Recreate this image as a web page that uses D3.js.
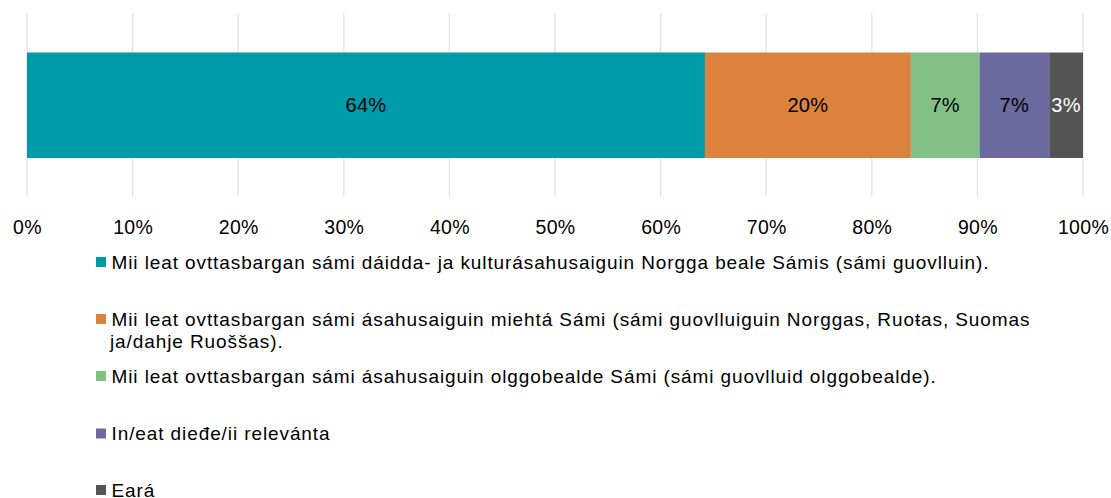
<!DOCTYPE html>
<html>
<head>
<meta charset="utf-8">
<script src="https://cdn.jsdelivr.net/npm/d3@7"></script>
<style>
  body { margin: 0; background: #fff; }
  text { font-family: "Liberation Sans", Arial, sans-serif; }
</style>
</head>
<body>
<script>
var width = 1111
var height = 498

// shares in percent
var categories = [
  'Mii leat ovttasbargan sámi dáidda- ja kulturásahusaiguin Norgga beale Sámis (sámi guovlluin).',
  'Mii leat ovttasbargan sámi ásahusaiguin miehtá Sámi (sámi guovlluiguin Norggas, Ruoŧas, Suomas|ja/dahje Ruoššas).',
  'Mii leat ovttasbargan sámi ásahusaiguin olggobealde Sámi (sámi guovlluid olggobealde).',
  'In/eat dieđe/ii relevánta',
  'Eará'
]
var values = [64.2, 19.5, 6.5, 6.6, 3.2]
var labels = ['64%', '20%', '7%', '7%', '3%']
var colors = ['#009baa', '#db823e', '#83c086', '#6b6a9f', '#545454']
var labelColors = ['#000', '#000', '#000', '#000', '#fff']
var ticks = [0, 10, 20, 30, 40, 50, 60, 70, 80, 90, 100]

var svg = d3.select('body')
  .append('svg')
  .attr('width', width)
  .attr('height', height)

var x = d3.scaleLinear().domain([0, 100]).range([27, 1083])

// gridlines
svg.selectAll('line.grid')
  .data(ticks)
  .enter()
  .append('line')
  .attr('class', 'grid')
  .attr('x1', function(d){ return x(d) })
  .attr('x2', function(d){ return x(d) })
  .attr('y1', 13)
  .attr('y2', 197)
  .attr('stroke', '#e4e4e4')
  .attr('stroke-width', 1.3)

var axis = d3.axisBottom(x)
  .tickValues(ticks)
  .tickSize(0)
  .tickPadding(0)
  .tickFormat(function(d){ return d + '%' })

var gAxis = svg.append('g')
  .attr('transform', 'translate(0,220)')
  .call(axis)
gAxis.select('.domain').remove()
gAxis.selectAll('text')
  .attr('dy', '0.35em')
  .attr('y', 7)
  .style('font-size', '19.5px')
  .style('letter-spacing', '0.3px')
  .style('font-family', '"Liberation Sans", Arial, sans-serif')
  .attr('fill', '#000')

// stacked segments
var starts = []
var acc = 0
values.forEach(function(v){ starts.push(acc); acc += v })

var seg = svg.selectAll('g.seg')
  .data(values)
  .enter()
  .append('g')
  .attr('class', 'seg')

seg.append('rect')
  .attr('x', function(d, i){ return x(starts[i]) })
  .attr('y', 52.5)
  .attr('width', function(d, i){ return x(starts[i] + d) - x(starts[i]) })
  .attr('height', 105.5)
  .attr('fill', function(d, i){ return colors[i] })

seg.append('text')
  .attr('x', function(d, i){ return x(starts[i] + d / 2) })
  .attr('y', 105)
  .attr('dy', '0.35em')
  .attr('text-anchor', 'middle')
  .style('font-size', '20px')
  .style('letter-spacing', '0.3px')
  .attr('fill', function(d, i){ return labelColors[i] })
  .text(function(d, i){ return labels[i] })

// legend
var legendY = [262, 319, 376, 433.5, 490]
var leg = svg.selectAll('g.leg')
  .data(categories)
  .enter()
  .append('g')
  .attr('class', 'leg')
  .attr('transform', function(d, i){ return 'translate(96,' + legendY[i] + ')' })

leg.append('rect')
  .attr('x', 0)
  .attr('y', -5)
  .attr('width', 10)
  .attr('height', 10)
  .attr('fill', function(d, i){ return colors[i] })

leg.append('text')
  .style('font-size', '19px')
  .style('letter-spacing', '0.9px')
  .attr('fill', '#000')
  .each(function(d){
    var t = d3.select(this)
    d.split('|').forEach(function(line, j){
      t.append('tspan')
        .attr('x', j == 0 ? 15.5 : 14)
        .attr('y', 0)
        .attr('dy', (0.35 + j * 1.15) + 'em')
        .text(line)
    })
  })
</script>
</body>
</html>
